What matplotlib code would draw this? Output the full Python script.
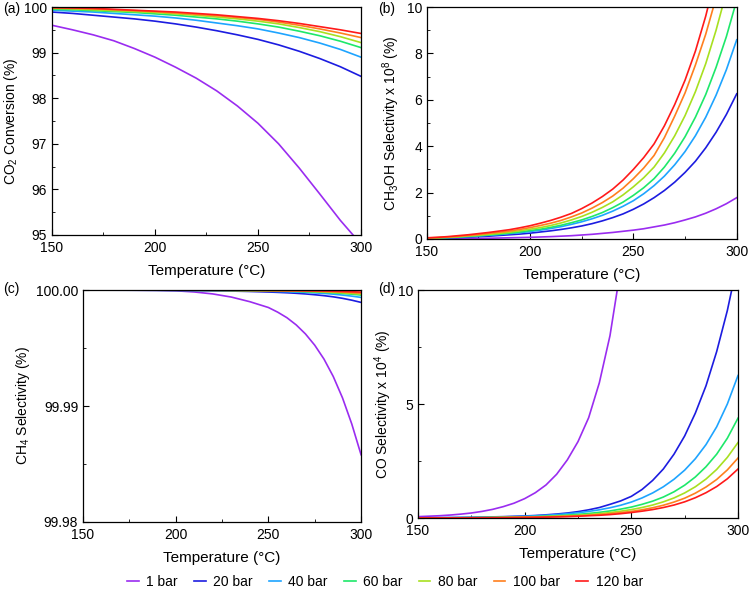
import matplotlib
matplotlib.use("Agg")
import matplotlib.pyplot as plt
from matplotlib.ticker import MultipleLocator, FormatStrFormatter

plt.rcParams["font.family"] = ["Liberation Sans", "DejaVu Sans"]
plt.rcParams["mathtext.default"] = "regular"
plt.rcParams["font.size"] = 10

temps10 = list(range(150, 301, 10))
temps5 = list(range(150, 301, 5))
temps_c = list(range(150, 251, 10)) + list(range(255, 301, 5))
pressures = ["1 bar", "20 bar", "40 bar", "60 bar", "80 bar", "100 bar", "120 bar"]
colors = ["#9a2cf0", "#1c1ce0", "#1ea4ff", "#1ee86a", "#a8e020", "#ff7f1e", "#ff1a1a"]

# (a) CO2 conversion (%), on temps10
co2_conv = [
    [99.60, 99.50, 99.39, 99.26, 99.09, 98.90, 98.68, 98.44, 98.16, 97.83, 97.45, 97.00, 96.47, 95.90, 95.32, 94.80],
    [99.89, 99.86, 99.82, 99.78, 99.74, 99.69, 99.63, 99.56, 99.48, 99.39, 99.29, 99.17, 99.03, 98.87, 98.69, 98.48],
    [99.93, 99.91, 99.89, 99.86, 99.83, 99.80, 99.76, 99.71, 99.65, 99.59, 99.52, 99.43, 99.33, 99.21, 99.07, 98.90],
    [99.95, 99.94, 99.92, 99.90, 99.88, 99.85, 99.82, 99.78, 99.74, 99.69, 99.63, 99.56, 99.47, 99.37, 99.25, 99.11],
    [99.97, 99.96, 99.94, 99.92, 99.90, 99.88, 99.85, 99.82, 99.78, 99.74, 99.69, 99.63, 99.55, 99.46, 99.35, 99.22],
    [99.98, 99.97, 99.96, 99.94, 99.92, 99.90, 99.87, 99.84, 99.81, 99.77, 99.73, 99.67, 99.60, 99.52, 99.43, 99.33],
    [99.99, 99.98, 99.97, 99.95, 99.93, 99.91, 99.89, 99.86, 99.83, 99.79, 99.75, 99.70, 99.64, 99.57, 99.50, 99.42],
]

# (b) CH3OH selectivity x 1e8 (%), on temps5 (series stop once off the chart)
meoh_sel = [
    [0.00, 0.005, 0.01, 0.015, 0.02, 0.025, 0.03, 0.04, 0.05, 0.06, 0.07, 0.085, 0.10, 0.12, 0.14, 0.17,
     0.20, 0.24, 0.28, 0.33, 0.38, 0.44, 0.52, 0.60, 0.70, 0.82, 0.95, 1.11, 1.30, 1.52, 1.78],
    [0.02, 0.03, 0.045, 0.06, 0.08, 0.10, 0.12, 0.15, 0.18, 0.21, 0.25, 0.30, 0.35, 0.41, 0.48, 0.56,
     0.66, 0.78, 0.92, 1.08, 1.28, 1.51, 1.78, 2.09, 2.45, 2.87, 3.35, 3.93, 4.60, 5.37, 6.26],
    [0.025, 0.04, 0.055, 0.075, 0.10, 0.13, 0.16, 0.19, 0.23, 0.27, 0.32, 0.38, 0.45, 0.53, 0.63, 0.74,
     0.87, 1.02, 1.20, 1.41, 1.65, 1.95, 2.30, 2.71, 3.20, 3.77, 4.45, 5.25, 6.20, 7.30, 8.59],
    [0.03, 0.045, 0.06, 0.08, 0.11, 0.14, 0.17, 0.21, 0.25, 0.30, 0.36, 0.42, 0.50, 0.59, 0.70, 0.82,
     0.97, 1.14, 1.35, 1.59, 1.88, 2.21, 2.60, 3.10, 3.70, 4.41, 5.25, 6.23, 7.40, 8.73, 10.3],
    [0.035, 0.05, 0.07, 0.10, 0.13, 0.16, 0.20, 0.24, 0.29, 0.35, 0.42, 0.49, 0.58, 0.69, 0.82, 0.97,
     1.15, 1.36, 1.60, 1.90, 2.25, 2.64, 3.10, 3.71, 4.45, 5.32, 6.35, 7.56, 9.00, 10.65],
    [0.04, 0.06, 0.08, 0.11, 0.15, 0.19, 0.24, 0.29, 0.34, 0.41, 0.49, 0.58, 0.68, 0.80, 0.95, 1.12,
     1.33, 1.57, 1.85, 2.19, 2.60, 3.06, 3.60, 4.37, 5.30, 6.30, 7.50, 8.83, 10.4],
    [0.05, 0.07, 0.10, 0.14, 0.18, 0.23, 0.28, 0.34, 0.40, 0.48, 0.57, 0.68, 0.80, 0.94, 1.10, 1.31,
     1.55, 1.83, 2.15, 2.54, 3.00, 3.51, 4.10, 4.88, 5.80, 6.85, 8.10, 9.61, 11.4],
]

# (c) CH4 selectivity (%), on temps_c
ch4_sel = [
    [100.0, 100.0, 100.0, 99.99999, 99.99998, 99.99994, 99.99984, 99.99967, 99.99940, 99.99900, 99.99850,
     99.99810, 99.99762, 99.99700, 99.99622, 99.99525, 99.99405, 99.99255, 99.99070, 99.98845, 99.98580],
    [99.999997, 99.999995, 99.999992, 99.999988, 99.999982, 99.999973, 99.99996, 99.999942, 99.999917, 99.999882,
     99.999835, 99.999805, 99.99977, 99.999725, 99.99967, 99.9996, 99.99952, 99.99942, 99.99929, 99.99913, 99.99894],
    [99.999998, 99.999997, 99.999995, 99.999993, 99.999989, 99.999984, 99.999976, 99.999965, 99.99995, 99.999929,
     99.999901, 99.999882, 99.99986, 99.999832, 99.9998, 99.99976, 99.99971, 99.99965, 99.99957, 99.99948, 99.99937],
    [99.999999, 99.999998, 99.999997, 99.999995, 99.999993, 99.999989, 99.999984, 99.999976, 99.999966, 99.999952,
     99.999932, 99.99992, 99.999906, 99.999887, 99.999865, 99.999838, 99.999805, 99.999762, 99.99971, 99.999647, 99.99957],
    [99.999999, 99.999998, 99.999997, 99.999996, 99.999994, 99.999991, 99.999987, 99.999981, 99.999973, 99.999961,
     99.999945, 99.999935, 99.999924, 99.999909, 99.99989, 99.999867, 99.99984, 99.999806, 99.999765, 99.999713, 99.99965],
    [99.999999, 99.999999, 99.999998, 99.999997, 99.999995, 99.999993, 99.99999, 99.999986, 99.99998, 99.999971,
     99.99996, 99.999953, 99.999944, 99.999933, 99.99992, 99.999902, 99.99988, 99.999855, 99.999825, 99.999787, 99.99974],
    [100.0, 100.0, 99.999999, 99.999998, 99.999997, 99.999996, 99.999994, 99.999991, 99.999987, 99.999981,
     99.999974, 99.999969, 99.999963, 99.999956, 99.999948, 99.999936, 99.999922, 99.999905, 99.999885, 99.99986, 99.99983],
]

# (d) CO selectivity x 1e4 (%), on temps5
co_sel = [
    [0.06, 0.08, 0.10, 0.13, 0.17, 0.22, 0.29, 0.38, 0.50, 0.65, 0.85, 1.11, 1.45, 1.92, 2.55, 3.35,
     4.40, 5.93, 8.00, 10.95],
    [0.01, 0.012, 0.015, 0.02, 0.025, 0.032, 0.04, 0.05, 0.06, 0.074, 0.09, 0.11, 0.14, 0.175, 0.22, 0.28,
     0.36, 0.46, 0.60, 0.75, 0.95, 1.25, 1.65, 2.15, 2.80, 3.60, 4.60, 5.80, 7.30, 9.10, 11.3],
    [0.008, 0.01, 0.012, 0.016, 0.02, 0.025, 0.03, 0.04, 0.05, 0.063, 0.08, 0.098, 0.12, 0.15, 0.19, 0.23,
     0.29, 0.36, 0.45, 0.56, 0.70, 0.88, 1.10, 1.37, 1.70, 2.10, 2.60, 3.22, 4.00, 5.00, 6.25],
    [0.005, 0.006, 0.008, 0.01, 0.013, 0.016, 0.02, 0.026, 0.033, 0.041, 0.05, 0.063, 0.08, 0.10, 0.13, 0.16,
     0.20, 0.25, 0.31, 0.39, 0.48, 0.60, 0.74, 0.92, 1.15, 1.44, 1.80, 2.25, 2.80, 3.50, 4.38],
    [0.004, 0.005, 0.006, 0.008, 0.01, 0.013, 0.016, 0.02, 0.026, 0.032, 0.04, 0.051, 0.065, 0.08, 0.10, 0.12,
     0.15, 0.19, 0.24, 0.30, 0.37, 0.46, 0.57, 0.71, 0.88, 1.10, 1.37, 1.71, 2.13, 2.66, 3.31],
    [0.003, 0.004, 0.005, 0.006, 0.008, 0.01, 0.013, 0.016, 0.02, 0.025, 0.032, 0.04, 0.05, 0.063, 0.08, 0.098,
     0.12, 0.15, 0.19, 0.24, 0.29, 0.36, 0.45, 0.56, 0.70, 0.87, 1.09, 1.36, 1.69, 2.11, 2.63],
    [0.002, 0.003, 0.004, 0.005, 0.006, 0.008, 0.01, 0.013, 0.016, 0.02, 0.025, 0.032, 0.04, 0.05, 0.06, 0.078,
     0.10, 0.12, 0.15, 0.19, 0.24, 0.30, 0.37, 0.46, 0.57, 0.71, 0.89, 1.11, 1.38, 1.72, 2.15],
]


def style_axis(ax, ylim, ymajor, yminor, fmt=None):
    ax.set_xlim(150, 300)
    ax.set_ylim(*ylim)
    ax.xaxis.set_major_locator(MultipleLocator(50))
    ax.xaxis.set_minor_locator(MultipleLocator(25))
    ax.yaxis.set_major_locator(MultipleLocator(ymajor))
    ax.yaxis.set_minor_locator(MultipleLocator(yminor))
    if fmt:
        ax.yaxis.set_major_formatter(FormatStrFormatter(fmt))
    ax.tick_params(which="both", direction="in", top=False, right=False, labelsize=10)
    ax.tick_params(which="major", length=4)
    ax.tick_params(which="minor", length=2.5)
    ax.tick_params(axis="x", pad=4.5)
    ax.set_xlabel("Temperature (\u00b0C)", fontsize=11, labelpad=6)
    for sp in ax.spines.values():
        sp.set_linewidth(0.9)


fig = plt.figure(figsize=(7.5, 5.9), dpi=100)
ax_a = fig.add_axes([0.0693, 0.6017, 0.412, 0.3864])
ax_b = fig.add_axes([0.569, 0.595, 0.4133, 0.393])
ax_c = fig.add_axes([0.1107, 0.1153, 0.3707, 0.393])
ax_d = fig.add_axes([0.5573, 0.122, 0.4267, 0.3864])

panels = [
    (ax_a, temps10, co2_conv, "CO$_2$ Conversion (%)", (95, 100), 1, 0.5, None),
    (ax_b, temps5, meoh_sel, "CH$_3$OH Selectivity x 10$^8$ (%)", (0, 10), 2, 1, None),
    (ax_c, temps_c, ch4_sel, "CH$_4$ Selectivity (%)", (99.98, 100.0), 0.01, 0.005, "%.2f"),
    (ax_d, temps5, co_sel, "CO Selectivity x 10$^4$ (%)", (0, 10), 5, 2.5, None),
]

for ax, xs, data, ylabel, ylim, ymaj, ymin, fmt in panels:
    for vals, col, lab in zip(data, colors, pressures):
        ax.plot(xs[:len(vals)], vals, color=col, lw=1.2, label=lab)
    style_axis(ax, ylim, ymaj, ymin, fmt)
    ax.set_ylabel(ylabel, fontsize=10, labelpad=3)

fig.text(0.004, 0.985, "(a)", fontsize=10, va="center")
fig.text(0.504, 0.985, "(b)", fontsize=10, va="center")
fig.text(0.004, 0.510, "(c)", fontsize=10, va="center")
fig.text(0.504, 0.510, "(d)", fontsize=10, va="center")

handles, labels = ax_a.get_legend_handles_labels()
fig.legend(handles, labels, loc="center", bbox_to_anchor=(0.513, 0.014), ncol=7,
           frameon=False, fontsize=10, handlelength=0.85, handletextpad=0.55,
           columnspacing=1.15)

fig.savefig("out.png", dpi=100)
